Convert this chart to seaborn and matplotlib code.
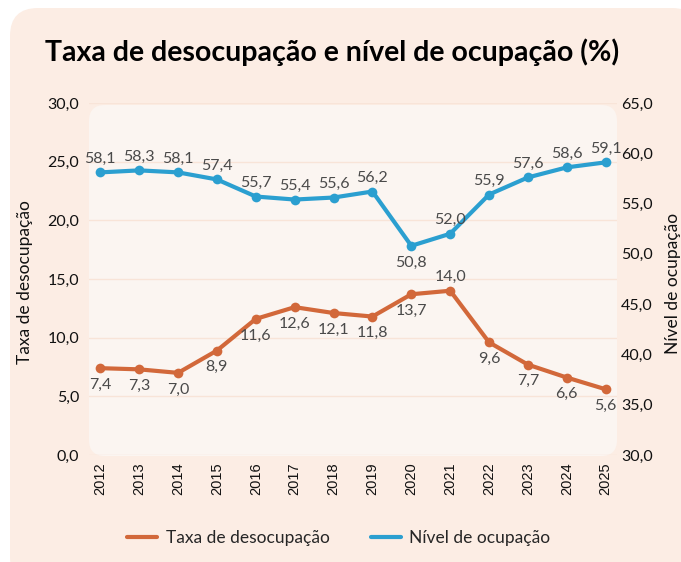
import matplotlib
matplotlib.use("Agg")
from matplotlib import pyplot as plt
from matplotlib.patches import FancyBboxPatch
from matplotlib.lines import Line2D
from matplotlib.ticker import FuncFormatter
import seaborn as sns

# Chart data
years = [2012, 2013, 2014, 2015, 2016, 2017, 2018, 2019, 2020, 2021, 2022, 2023, 2024, 2025]
desocupacao = [7.4, 7.3, 7.0, 8.9, 11.6, 12.6, 12.1, 11.8, 13.7, 14.0, 9.6, 7.7, 6.6, 5.6]
ocupacao = [58.1, 58.3, 58.1, 57.4, 55.7, 55.4, 55.6, 56.2, 50.8, 52.0, 55.9, 57.6, 58.6, 59.1]
left_ticks = [0, 5, 10, 15, 20, 25, 30]
right_ticks = [30, 35, 40, 45, 50, 55, 60, 65]

# Labels that sit on the other side of the point
desoc_above = {2021}
ocup_below = {2020}

orange = "#D2683A"
blue = "#2B9FD0"
outer_bg = "#FCEDE4"
inner_bg = "#FBF5F1"
grid_col = "#F8E4D8"
label_col = "#4A4A4A"

sns.set_style("white")
plt.rcParams["font.family"] = ["Lato", "DejaVu Sans"]

W, H = 681, 562
fig = plt.figure(figsize=(W / 100, H / 100), dpi=100)
fig.patch.set_facecolor("white")


def px_box(x0, y0, x1, y1, r, color):
    # rounded box given in pixel coords (top-left origin)
    return FancyBboxPatch((x0 / W, 1 - y1 / H), (x1 - x0) / W, (y1 - y0) / H,
                          boxstyle="round,pad=0,rounding_size=%f" % (r / W),
                          mutation_aspect=W / H, transform=fig.transFigure,
                          facecolor=color, edgecolor="none", zorder=-2)


fig.patches.append(px_box(10, 8, 700, 585, 28, outer_bg))
fig.patches.append(px_box(89, 105, 617, 456, 16, inner_bg))

ax = fig.add_axes([89 / W, 1 - 455 / H, 528 / W, 352 / H])
ax.set_facecolor("none")
ax2 = ax.twinx()
ax2.set_facecolor("none")

sns.lineplot(x=years, y=desocupacao, ax=ax, color=orange, linewidth=3,
             marker="o", markersize=7, markeredgewidth=0)
sns.lineplot(x=years, y=ocupacao, ax=ax2, color=blue, linewidth=3,
             marker="o", markersize=7, markeredgewidth=0)


def fmt(v):
    return ("%.1f" % v).replace(".", ",")


for x, v in zip(years, desocupacao):
    dy = 10 if x in desoc_above else -12
    ax.annotate(fmt(v), (x, v), xytext=(0, dy), textcoords="offset points",
                ha="center", va="center", fontsize=11.5, color=label_col)
for x, v in zip(years, ocupacao):
    dy = -12 if x in ocup_below else 10
    ax2.annotate(fmt(v), (x, v), xytext=(0, dy), textcoords="offset points",
                 ha="center", va="center", fontsize=11.5, color=label_col)

ax.set_xlim(years[0] - 0.29, years[-1] + 0.29)
ax.set_ylim(left_ticks[0], left_ticks[-1])
ax2.set_ylim(right_ticks[0], right_ticks[-1])
ax.set_xticks(years)
ax.set_xticklabels([str(y) for y in years], rotation=90, fontsize=10.5,
                   family="Liberation Sans")
ax.set_yticks(left_ticks)
ax2.set_yticks(right_ticks)
ax.yaxis.set_major_formatter(FuncFormatter(lambda v, p: fmt(v)))
ax2.yaxis.set_major_formatter(FuncFormatter(lambda v, p: fmt(v)))
for a in (ax, ax2):
    a.tick_params(length=0, colors="#111111")
    a.tick_params(axis="y", labelsize=11.5)
    sns.despine(ax=a, left=True, right=True, top=True, bottom=True)
    a.set_xlabel("")
ax.tick_params(axis="y", pad=7)
ax2.tick_params(axis="y", pad=3)
ax.tick_params(axis="x", pad=5)

ax.yaxis.grid(True, color=grid_col, linewidth=1)
ax.xaxis.grid(False)
ax2.grid(False)
ax.set_axisbelow(True)

fig.text(25 / W, 1 - 282 / H, "Taxa de desocupação", rotation=90,
         ha="center", va="center", fontsize=12.5, color="#111111")
fig.text(673 / W, 1 - 283 / H, "Nível de ocupação", rotation=90,
         ha="center", va="center", fontsize=12.5, color="#111111")

fig.text(45 / W, 1 - 61 / H, "Taxa de desocupação e nível de ocupação (%)",
         ha="left", va="baseline", fontsize=20.5, fontweight="bold", color="black")

handles = [Line2D([], [], color=orange, linewidth=3),
           Line2D([], [], color=blue, linewidth=3)]
fig.legend(handles, ["Taxa de desocupação", "Nível de ocupação"],
           loc="center", bbox_to_anchor=(339 / W, 1 - 538 / H), ncol=2,
           frameon=False, fontsize=12.5, handlelength=1.7, columnspacing=2.4,
           handletextpad=0.5)

fig.savefig("out.png", dpi=100)
